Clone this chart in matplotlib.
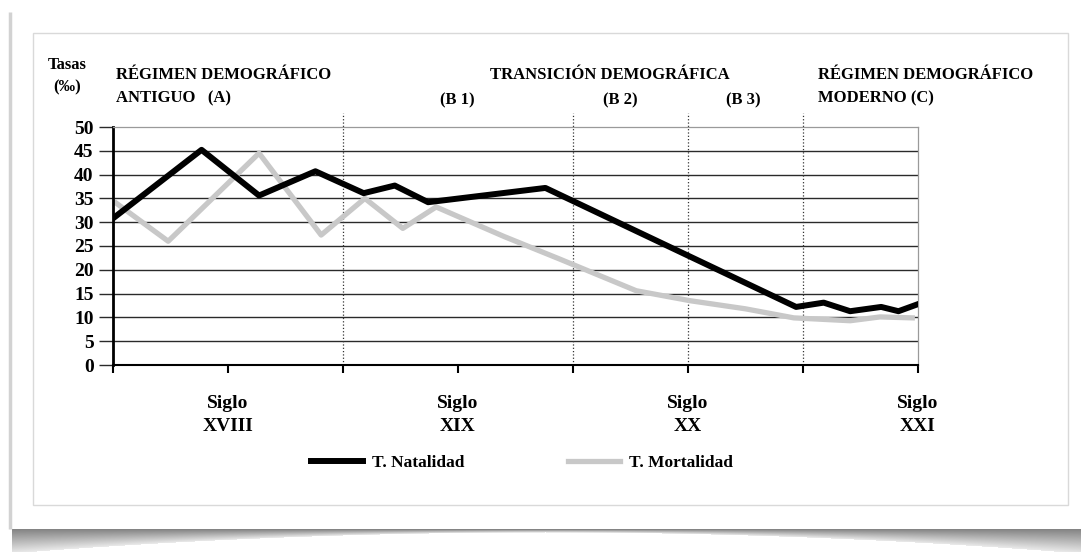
import numpy as np
import matplotlib
matplotlib.use("Agg")
import matplotlib.pyplot as plt
from matplotlib.patches import Rectangle, Polygon

plt.rcParams['font.family'] = ['Liberation Serif', 'DejaVu Serif']
plt.rcParams['font.weight'] = 'bold'

# datos (eje x: 0 = inicio, cada unidad = medio siglo)
natalidad_x = [0, 0.77, 1.27, 1.76, 2.18, 2.45, 2.74, 3.76, 5.94, 6.18, 6.41, 6.68, 6.83, 6.99]
natalidad_y = [30.8, 45.2, 35.6, 40.7, 36.1, 37.7, 34.2, 37.2, 12.2, 13.1, 11.3, 12.2, 11.3, 12.7]

mortalidad_x = [0, 0.48, 1.27, 1.81, 2.19, 2.52, 2.81, 3.40, 3.89, 4.55, 5.02, 5.50, 5.92, 6.41, 6.67, 6.95]
mortalidad_y = [34.5, 26.0, 44.5, 27.3, 35.0, 28.7, 33.2, 27.0, 22.2, 15.6, 13.5, 11.8, 9.9, 9.3, 10.1, 9.9]

y_ticks = list(range(0, 51, 5))
x_ticks = list(range(0, 8))
divisiones = [2, 4, 5, 6]
siglos_x = [1, 3, 5, 7]
siglos = ['XVIII', 'XIX', 'XX', 'XXI']

W, H = 1081, 552
fig = plt.figure(figsize=(W / 100, H / 100), dpi=100)

# fondo: tarjeta con sombra
bg = fig.add_axes([0, 0, 1, 1], zorder=-1)
bg.set_xlim(0, W)
bg.set_ylim(H, 0)
bg.axis('off')
bg.plot([10, 10], [12, 529], color='#d2d2d2', lw=2.5, solid_capstyle='butt')
bg.add_patch(Rectangle((33, 33), 1068 - 33, 505 - 33, facecolor='white',
                       edgecolor='#d9d9d9', lw=1.0))

# sombra curva inferior
xs = np.arange(W)
ys = np.arange(529, H)
XX, YY = np.meshgrid(xs, ys)
depth = 3 + 21 * (np.abs(XX - 545) / 535.0) ** 2
frac = (YY - 529) / depth
gray = np.where(frac < 1, 0.52 + 0.4 * np.clip(frac, 0, 1), 1.0)
gray = np.where(XX < 12, 1.0, gray)
img = np.dstack([gray, gray, gray])
bg.imshow(img, extent=(0, W, H, 529), aspect='auto', interpolation='bilinear')
bg.set_xlim(0, W)
bg.set_ylim(H, 0)

# textos de cabecera
bg.text(67, 65, 'Tasas', ha='center', va='center', fontsize=12)
bg.text(67, 87, '(‰)', ha='center', va='center', fontsize=12)
bg.text(116, 75, 'RÉGIMEN DEMOGRÁFICO', ha='left', va='center', fontsize=12)
bg.text(116, 98, 'ANTIGUO   (A)', ha='left', va='center', fontsize=12)
bg.text(490, 75, 'TRANSICIÓN DEMOGRÁFICA', ha='left', va='center', fontsize=12)
bg.text(457, 100, '(B 1)', ha='center', va='center', fontsize=12)
bg.text(620, 100, '(B 2)', ha='center', va='center', fontsize=12)
bg.text(743, 100, '(B 3)', ha='center', va='center', fontsize=12)
bg.text(818, 75, 'RÉGIMEN DEMOGRÁFICO', ha='left', va='center', fontsize=12)
bg.text(818, 98, 'MODERNO (C)', ha='left', va='center', fontsize=12)

# grafico principal
ax = fig.add_axes([113 / W, 1 - 365 / H, (918 - 113) / W, (365 - 127) / H])
ax.set_xlim(0, 7)
ax.set_ylim(0, 50)
ax.set_facecolor('none')

ax.hlines(y_ticks[1:-1], 0, 7, color='#2a2a2a', lw=1.0, zorder=1)
for xd in divisiones:
    ax.plot([xd, xd], [0, 53], ls=':', color='#333333', lw=0.9, clip_on=False, zorder=1)

ax.plot(mortalidad_x, mortalidad_y, color='#c8c8c8', lw=3.8, zorder=2,
        label='T. Mortalidad')
ax.plot(natalidad_x, natalidad_y, color='black', lw=4.3, zorder=3,
        label='T. Natalidad')

ax.spines['left'].set_linewidth(2.0)
ax.spines['left'].set_color('black')
ax.spines['bottom'].set_linewidth(1.5)
ax.spines['bottom'].set_color('black')
ax.spines['top'].set_color('#9a9a9a')
ax.spines['top'].set_linewidth(0.9)
ax.spines['right'].set_color('#9a9a9a')
ax.spines['right'].set_linewidth(0.9)

ax.set_yticks(y_ticks)
ax.set_yticklabels([str(v) for v in y_ticks], fontsize=14)
ax.tick_params(axis='y', length=10, width=1.0, color='#2a2a2a', pad=4)
ax.set_xticks(x_ticks)
ax.set_xticklabels([''] * len(x_ticks))
ax.tick_params(axis='x', length=6, width=1.5, color='black')

for xs_, s in zip(siglos_x, siglos):
    ax.text(xs_, -8.0, 'Siglo', ha='center', va='center', fontsize=14, clip_on=False)
    ax.text(xs_, -13.0, s, ha='center', va='center', fontsize=14, clip_on=False)

h, l = ax.get_legend_handles_labels()
fig.legend(h[::-1], l[::-1], loc='center', bbox_to_anchor=(522 / W, 1 - 463 / H),
           ncol=2, frameon=False, fontsize=12.5, handlelength=3.0,
           handletextpad=0.5, columnspacing=6.0, borderpad=0)

fig.savefig('out.png', dpi=100)
